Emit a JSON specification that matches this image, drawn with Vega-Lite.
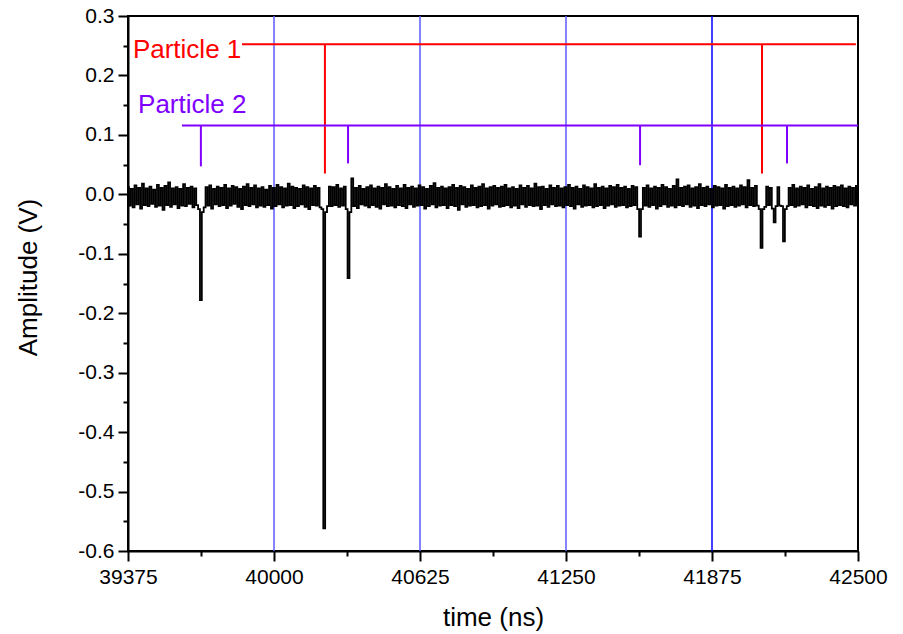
{
"$schema": "https://vega.github.io/schema/vega-lite/v6.json",
"width": 730, "height": 535,
"autosize": {"type": "none"},
"padding": {"left": 128, "top": 16, "right": 45, "bottom": 83},
"background": "#ffffff",
"config": {
 "view": {"stroke": "#000000", "strokeWidth": 2},
 "axis": {"labelFont": "Liberation Sans", "titleFont": "Liberation Sans", "labelColor": "#000000", "titleColor": "#000000", "domainColor": "#000000", "tickColor": "#000000", "grid": false, "titleFontWeight": "normal", "labelFlush": false, "labelOverlap": false, "labelBound": false}
},
"datasets": {
 "grid1": [{"t": 40000}, {"t": 40625}, {"t": 41250}],
 "grid2": [{"t": 41875}],
 "marks": [
  {"p": "Particle 1", "x": 39863, "x2": 42491, "y": 0.2525, "y2": 0.2525},
  {"p": "Particle 1", "x": 40218, "x2": 40218, "y": 0.2525, "y2": 0.035},
  {"p": "Particle 1", "x": 42089, "x2": 42089, "y": 0.2525, "y2": 0.035},
  {"p": "Particle 2", "x": 39606, "x2": 42500, "y": 0.116, "y2": 0.116},
  {"p": "Particle 2", "x": 39687, "x2": 39687, "y": 0.116, "y2": 0.047},
  {"p": "Particle 2", "x": 40317, "x2": 40317, "y": 0.116, "y2": 0.052},
  {"p": "Particle 2", "x": 41567, "x2": 41567, "y": 0.116, "y2": 0.049},
  {"p": "Particle 2", "x": 42196, "x2": 42196, "y": 0.116, "y2": 0.052}
 ],
 "labels": [
  {"p": "Particle 1", "x": 39396, "y": 0.229},
  {"p": "Particle 2", "x": 39418, "y": 0.136}
 ],
 "signal": [
{"t":39375,"v":0.012},{"t":39383,"v":-0.019},{"t":39391,"v":0.009},{"t":39399,"v":-0.022},{"t":39407,"v":0.015},{"t":39415,"v":-0.017},{"t":39423,"v":0.011},{"t":39431,"v":-0.024},{"t":39439,"v":0.018},{"t":39447,"v":-0.018},
{"t":39455,"v":0.010},{"t":39463,"v":-0.02},{"t":39471,"v":0.013},{"t":39479,"v":-0.016},{"t":39487,"v":0.008},{"t":39495,"v":-0.021},{"t":39503,"v":0.016},{"t":39511,"v":-0.019},{"t":39519,"v":0.011},{"t":39527,"v":-0.026},
{"t":39535,"v":0.014},{"t":39543,"v":-0.018},{"t":39551,"v":0.02},{"t":39559,"v":-0.021},{"t":39567,"v":0.01},{"t":39575,"v":-0.017},{"t":39583,"v":0.012},{"t":39591,"v":-0.023},{"t":39599,"v":0.009},{"t":39607,"v":-0.019},
{"t":39615,"v":0.017},{"t":39623,"v":-0.02},{"t":39631,"v":0.011},{"t":39639,"v":-0.016},{"t":39647,"v":0.013},{"t":39655,"v":-0.022},{"t":39663,"v":0.01},{"t":39671,"v":-0.018},{"t":39679,"v":-0.025},{"t":39687,"v":-0.178},
{"t":39695,"v":-0.03},{"t":39703,"v":-0.022},{"t":39711,"v":0.012},{"t":39719,"v":-0.019},{"t":39727,"v":0.015},{"t":39735,"v":-0.024},{"t":39743,"v":0.009},{"t":39751,"v":-0.017},{"t":39759,"v":0.013},{"t":39767,"v":-0.02},
{"t":39775,"v":0.011},{"t":39783,"v":-0.018},{"t":39791,"v":0.016},{"t":39799,"v":-0.023},{"t":39807,"v":0.01},{"t":39815,"v":-0.019},{"t":39823,"v":0.014},{"t":39831,"v":-0.016},{"t":39839,"v":0.012},{"t":39847,"v":-0.021},
{"t":39855,"v":0.009},{"t":39863,"v":-0.025},{"t":39871,"v":0.013},{"t":39879,"v":-0.018},{"t":39887,"v":0.017},{"t":39895,"v":-0.02},{"t":39903,"v":0.011},{"t":39911,"v":-0.017},{"t":39919,"v":0.015},{"t":39927,"v":-0.022},
{"t":39935,"v":0.01},{"t":39943,"v":-0.019},{"t":39951,"v":0.012},{"t":39959,"v":-0.021},{"t":39967,"v":0.008},{"t":39975,"v":-0.018},{"t":39983,"v":0.014},{"t":39991,"v":-0.024},{"t":39999,"v":0.011},{"t":40007,"v":-0.02},
{"t":40015,"v":0.016},{"t":40023,"v":-0.017},{"t":40031,"v":0.012},{"t":40039,"v":-0.022},{"t":40047,"v":0.01},{"t":40055,"v":-0.019},{"t":40063,"v":0.018},{"t":40071,"v":-0.018},{"t":40079,"v":0.013},{"t":40087,"v":-0.023},
{"t":40095,"v":0.011},{"t":40103,"v":-0.02},{"t":40111,"v":0.009},{"t":40119,"v":-0.017},{"t":40127,"v":0.015},{"t":40135,"v":-0.021},{"t":40143,"v":0.012},{"t":40151,"v":-0.025},{"t":40159,"v":0.01},{"t":40167,"v":-0.018},
{"t":40175,"v":0.014},{"t":40183,"v":-0.019},{"t":40191,"v":0.011},{"t":40199,"v":-0.022},{"t":40207,"v":-0.025},{"t":40215,"v":-0.562},{"t":40223,"v":-0.03},{"t":40231,"v":-0.02},{"t":40239,"v":0.013},{"t":40247,"v":-0.02},
{"t":40255,"v":0.012},{"t":40263,"v":-0.018},{"t":40271,"v":0.016},{"t":40279,"v":-0.021},{"t":40287,"v":0.01},{"t":40295,"v":-0.019},{"t":40303,"v":0.013},{"t":40311,"v":-0.025},{"t":40319,"v":-0.141},{"t":40327,"v":-0.03},
{"t":40335,"v":0.027},{"t":40343,"v":-0.02},{"t":40351,"v":0.011},{"t":40359,"v":-0.023},{"t":40367,"v":0.014},{"t":40375,"v":-0.017},{"t":40383,"v":0.009},{"t":40391,"v":-0.019},{"t":40399,"v":0.012},{"t":40407,"v":-0.022},
{"t":40415,"v":0.015},{"t":40423,"v":-0.018},{"t":40431,"v":0.01},{"t":40439,"v":-0.021},{"t":40447,"v":0.013},{"t":40455,"v":-0.024},{"t":40463,"v":0.011},{"t":40471,"v":-0.017},{"t":40479,"v":0.017},{"t":40487,"v":-0.02},
{"t":40495,"v":0.012},{"t":40503,"v":-0.019},{"t":40511,"v":0.009},{"t":40519,"v":-0.022},{"t":40527,"v":0.014},{"t":40535,"v":-0.018},{"t":40543,"v":0.01},{"t":40551,"v":-0.02},{"t":40559,"v":0.016},{"t":40567,"v":-0.023},
{"t":40575,"v":0.011},{"t":40583,"v":-0.017},{"t":40591,"v":0.013},{"t":40599,"v":-0.021},{"t":40607,"v":0.01},{"t":40615,"v":-0.019},{"t":40623,"v":0.015},{"t":40631,"v":-0.018},{"t":40639,"v":0.012},{"t":40647,"v":-0.024},
{"t":40655,"v":0.009},{"t":40663,"v":-0.02},{"t":40671,"v":0.014},{"t":40679,"v":-0.017},{"t":40687,"v":0.019},{"t":40695,"v":-0.022},{"t":40703,"v":0.011},{"t":40711,"v":-0.019},{"t":40719,"v":0.013},{"t":40727,"v":-0.018},
{"t":40735,"v":0.01},{"t":40743,"v":-0.023},{"t":40751,"v":0.012},{"t":40759,"v":-0.018},{"t":40767,"v":0.016},{"t":40775,"v":-0.02},{"t":40783,"v":0.011},{"t":40791,"v":-0.026},{"t":40799,"v":0.014},{"t":40807,"v":-0.017},
{"t":40815,"v":0.012},{"t":40823,"v":-0.021},{"t":40831,"v":0.009},{"t":40839,"v":-0.019},{"t":40847,"v":0.015},{"t":40855,"v":-0.018},{"t":40863,"v":0.011},{"t":40871,"v":-0.022},{"t":40879,"v":0.013},{"t":40887,"v":-0.02},
{"t":40895,"v":0.017},{"t":40903,"v":-0.018},{"t":40911,"v":0.01},{"t":40919,"v":-0.024},{"t":40927,"v":0.012},{"t":40935,"v":-0.019},{"t":40943,"v":0.014},{"t":40951,"v":-0.017},{"t":40959,"v":0.011},{"t":40967,"v":-0.021},
{"t":40975,"v":0.013},{"t":40983,"v":-0.02},{"t":40991,"v":0.016},{"t":40999,"v":-0.018},{"t":41007,"v":0.01},{"t":41015,"v":-0.022},{"t":41023,"v":0.012},{"t":41031,"v":-0.019},{"t":41039,"v":0.009},{"t":41047,"v":-0.023},
{"t":41055,"v":0.015},{"t":41063,"v":-0.017},{"t":41071,"v":0.011},{"t":41079,"v":-0.021},{"t":41087,"v":0.014},{"t":41095,"v":-0.018},{"t":41103,"v":0.01},{"t":41111,"v":-0.02},{"t":41119,"v":0.018},{"t":41127,"v":-0.019},
{"t":41135,"v":0.012},{"t":41143,"v":-0.025},{"t":41151,"v":0.013},{"t":41159,"v":-0.018},{"t":41167,"v":0.009},{"t":41175,"v":-0.021},{"t":41183,"v":0.015},{"t":41191,"v":-0.017},{"t":41199,"v":0.011},{"t":41207,"v":-0.02},
{"t":41215,"v":0.014},{"t":41223,"v":-0.019},{"t":41231,"v":0.01},{"t":41239,"v":-0.022},{"t":41247,"v":0.012},{"t":41255,"v":-0.018},{"t":41263,"v":0.016},{"t":41271,"v":-0.02},{"t":41279,"v":0.011},{"t":41287,"v":-0.024},
{"t":41295,"v":0.013},{"t":41303,"v":-0.017},{"t":41311,"v":0.009},{"t":41319,"v":-0.021},{"t":41327,"v":0.015},{"t":41335,"v":-0.019},{"t":41343,"v":0.012},{"t":41351,"v":-0.018},{"t":41359,"v":0.01},{"t":41367,"v":-0.022},
{"t":41375,"v":0.017},{"t":41383,"v":-0.02},{"t":41391,"v":0.011},{"t":41399,"v":-0.018},{"t":41407,"v":0.013},{"t":41415,"v":-0.023},{"t":41423,"v":0.01},{"t":41431,"v":-0.019},{"t":41439,"v":0.014},{"t":41447,"v":-0.017},
{"t":41455,"v":0.012},{"t":41463,"v":-0.021},{"t":41471,"v":0.016},{"t":41479,"v":-0.019},{"t":41487,"v":0.011},{"t":41495,"v":-0.018},{"t":41503,"v":0.013},{"t":41511,"v":-0.022},{"t":41519,"v":0.009},{"t":41527,"v":-0.02},
{"t":41535,"v":0.014},{"t":41543,"v":-0.018},{"t":41551,"v":0.012},{"t":41559,"v":-0.025},{"t":41567,"v":-0.071},{"t":41575,"v":-0.025},{"t":41583,"v":0.011},{"t":41591,"v":-0.019},{"t":41599,"v":0.015},{"t":41607,"v":-0.021},
{"t":41615,"v":0.01},{"t":41623,"v":-0.018},{"t":41631,"v":0.013},{"t":41639,"v":-0.024},{"t":41647,"v":0.011},{"t":41655,"v":-0.02},{"t":41663,"v":0.016},{"t":41671,"v":-0.017},{"t":41679,"v":0.012},{"t":41687,"v":-0.021},
{"t":41695,"v":0.009},{"t":41703,"v":-0.019},{"t":41711,"v":0.014},{"t":41719,"v":-0.022},{"t":41727,"v":0.025},{"t":41735,"v":-0.018},{"t":41743,"v":0.011},{"t":41751,"v":-0.02},{"t":41759,"v":0.013},{"t":41767,"v":-0.017},
{"t":41775,"v":0.015},{"t":41783,"v":-0.021},{"t":41791,"v":0.01},{"t":41799,"v":-0.019},{"t":41807,"v":0.012},{"t":41815,"v":-0.023},{"t":41823,"v":0.017},{"t":41831,"v":-0.018},{"t":41839,"v":0.011},{"t":41847,"v":-0.02},
{"t":41855,"v":0.013},{"t":41863,"v":-0.017},{"t":41871,"v":0.009},{"t":41879,"v":-0.022},{"t":41887,"v":0.014},{"t":41895,"v":-0.019},{"t":41903,"v":0.012},{"t":41911,"v":-0.018},{"t":41919,"v":0.01},{"t":41927,"v":-0.024},
{"t":41935,"v":0.016},{"t":41943,"v":-0.02},{"t":41951,"v":0.011},{"t":41959,"v":-0.018},{"t":41967,"v":0.013},{"t":41975,"v":-0.021},{"t":41983,"v":0.01},{"t":41991,"v":-0.019},{"t":41999,"v":0.015},{"t":42007,"v":-0.017},
{"t":42015,"v":0.012},{"t":42023,"v":-0.022},{"t":42031,"v":0.024},{"t":42039,"v":-0.018},{"t":42047,"v":0.011},{"t":42055,"v":-0.02},{"t":42063,"v":0.014},{"t":42071,"v":-0.019},{"t":42079,"v":-0.025},{"t":42087,"v":-0.09},
{"t":42095,"v":-0.025},{"t":42103,"v":-0.021},{"t":42111,"v":0.013},{"t":42119,"v":-0.018},{"t":42127,"v":0.011},{"t":42135,"v":-0.024},{"t":42143,"v":-0.047},{"t":42151,"v":-0.02},{"t":42159,"v":0.012},{"t":42167,"v":-0.019},
{"t":42175,"v":-0.02},{"t":42183,"v":-0.079},{"t":42191,"v":-0.025},{"t":42199,"v":-0.02},{"t":42207,"v":0.011},{"t":42215,"v":-0.018},{"t":42223,"v":0.016},{"t":42231,"v":-0.021},{"t":42239,"v":0.01},{"t":42247,"v":-0.019},
{"t":42255,"v":0.013},{"t":42263,"v":-0.017},{"t":42271,"v":0.011},{"t":42279,"v":-0.022},{"t":42287,"v":0.015},{"t":42295,"v":-0.018},{"t":42303,"v":0.009},{"t":42311,"v":-0.02},{"t":42319,"v":0.012},{"t":42327,"v":-0.023},
{"t":42335,"v":0.017},{"t":42343,"v":-0.019},{"t":42351,"v":0.01},{"t":42359,"v":-0.021},{"t":42367,"v":0.013},{"t":42375,"v":-0.018},{"t":42383,"v":0.011},{"t":42391,"v":-0.024},{"t":42399,"v":0.014},{"t":42407,"v":-0.02},
{"t":42415,"v":0.012},{"t":42423,"v":-0.018},{"t":42431,"v":0.015},{"t":42439,"v":-0.02},{"t":42447,"v":0.01},{"t":42455,"v":-0.022},{"t":42463,"v":0.013},{"t":42471,"v":-0.017},{"t":42479,"v":0.011},{"t":42487,"v":-0.019},
{"t":42495,"v":0.014},{"t":42500,"v":-0.018}
 ]
},
"resolve": {"axis": {"x": "independent", "y": "independent"}},
"layer": [
 {
  "data": {"name": "grid1"},
  "mark": {"type": "rule", "color": "#5b5bff", "strokeWidth": 1.5},
  "encoding": {
   "x": {"field": "t", "type": "quantitative",
    "scale": {"domain": [39375, 42500], "nice": false, "zero": false},
    "axis": {"orient": "bottom", "values": [39375, 40000, 40625, 41250, 41875, 42500], "format": "d",
     "title": "time (ns)", "titleFontSize": 26, "labelFontSize": 21, "tickSize": 10, "tickWidth": 2, "domainWidth": 2,
     "labelPadding": 5, "titleX": 365, "titleY": 66, "titleBaseline": "middle", "titleAlign": "center"}}
  }
 },
 {
  "data": {"name": "grid2"},
  "mark": {"type": "rule", "color": "#0000ff", "strokeWidth": 1.5},
  "encoding": {"x": {"field": "t", "type": "quantitative", "axis": null}}
 },
 {
  "data": {"name": "signal"},
  "mark": {"type": "line", "color": "#000000", "strokeWidth": 1.8, "interpolate": "step"},
  "encoding": {
   "x": {"field": "t", "type": "quantitative",
    "axis": {"orient": "bottom", "values": [39687.5, 40312.5, 40937.5, 41562.5, 42187.5], "labels": false, "domain": false, "tickSize": 5, "tickWidth": 2, "title": null}},
   "y": {"field": "v", "type": "quantitative",
    "scale": {"domain": [-0.6, 0.3], "nice": false, "zero": false},
    "axis": {"orient": "left", "values": [-0.6, -0.5, -0.4, -0.3, -0.2, -0.1, 0, 0.1, 0.2, 0.3],
     "labelExpr": "replace(format(datum.value, '.1f'), '\u2212', '-')",
     "labelFontSize": 21, "tickSize": 10, "tickWidth": 2, "domainWidth": 2, "labelPadding": 4,
     "title": "Amplitude (V)", "titleFontSize": 26, "titleAngle": -90, "titleX": -100, "titleY": 261, "titleBaseline": "middle", "titleAlign": "center"}}
  }
 },
 {
  "data": {"name": "marks"},
  "mark": {"type": "rule", "strokeWidth": 2},
  "encoding": {
   "x": {"field": "x", "type": "quantitative", "axis": null},
   "x2": {"field": "x2"},
   "y": {"field": "y", "type": "quantitative",
    "axis": {"orient": "left", "values": [-0.55, -0.45, -0.35, -0.25, -0.15, -0.05, 0.05, 0.15, 0.25], "labels": false, "domain": false, "tickSize": 5, "tickWidth": 2, "title": null}},
   "y2": {"field": "y2"},
   "color": {"field": "p", "type": "nominal", "scale": {"domain": ["Particle 1", "Particle 2"], "range": ["#ff0000", "#8000ff"]}, "legend": null}
  }
 },
 {
  "data": {"name": "labels"},
  "mark": {"type": "text", "align": "left", "baseline": "alphabetic", "fontSize": 26, "font": "Liberation Sans"},
  "encoding": {
   "x": {"field": "x", "type": "quantitative", "axis": null},
   "y": {"field": "y", "type": "quantitative", "axis": null},
   "text": {"field": "p"},
   "color": {"field": "p", "type": "nominal", "legend": null}
  }
 }
]
}
